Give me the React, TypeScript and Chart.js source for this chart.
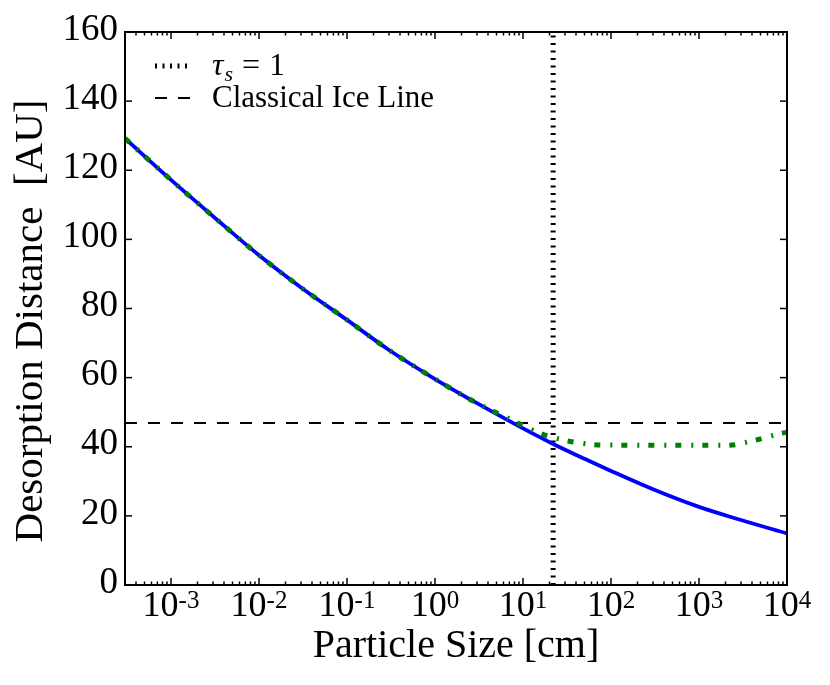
import { useEffect, useRef } from 'react';
import { Chart, registerables } from 'chart.js';

Chart.register(...registerables);

// particle size [cm] -> desorption distance [AU]
const blueSize = [3e-4, 1e-3, 3e-3, 1e-2, 3e-2, 0.1, 0.3, 1, 3, 10, 22, 50, 100, 300, 1000, 3000, 1e4];
const blueDist = [129.2, 117.2, 106.7, 95.4, 86.1, 76.7, 68.0, 59.6, 52.6, 45.3, 40.8, 36.5, 33.0, 27.7, 22.6, 18.8, 14.9];

const greenSize = [3e-4, 1e-3, 3e-3, 1e-2, 3e-2, 0.1, 0.3, 1, 3, 6, 11.5, 15.5, 22, 31.6, 44.7, 63, 89, 275, 1660, 2400, 3300, 4700, 6800, 9500, 1e4];
const greenDist = [129.2, 117.2, 106.7, 95.4, 86.1, 76.7, 68.0, 59.6, 52.6, 48.9, 45.4, 43.9, 42.7, 41.7, 41.1, 40.6, 40.5, 40.4, 40.4, 40.5, 41.2, 42.1, 43.2, 44.1, 44.2];

const stokesSize = 22; // tau_s = 1
const iceLine = 46.9;
const xRange = [3e-4, 1e4];
const yRange = [0, 160];
const xDecades = [-3, -2, -1, 0, 1, 2, 3, 4];

const SERIF = '"Liberation Serif", "DejaVu Serif", serif';

const toPoints = (xs: number[], ys: number[]) => xs.map((x, i) => ({ x, y: ys[i] }));

const framePlugin = {
  id: 'frame',
  afterDraw(chart: any) {
    const { ctx, chartArea: a, scales } = chart;
    const x = scales.x;
    const y = scales.y;
    const seg = (x1: number, y1: number, x2: number, y2: number) => {
      ctx.beginPath();
      ctx.moveTo(x1, y1);
      ctx.lineTo(x2, y2);
      ctx.stroke();
    };
    ctx.save();
    ctx.strokeStyle = '#000';
    ctx.fillStyle = '#000';
    ctx.setLineDash([]);

    // inward ticks, log minor ticks on x
    ctx.lineWidth = 1.5;
    for (let k = -4; k <= 4; k++) {
      for (let m = 1; m <= 9; m++) {
        const v = m * Math.pow(10, k);
        if (v < x.min * 0.999 || v > x.max * 1.001) continue;
        const px = x.getPixelForValue(v);
        const len = m === 1 ? 7 : 3.5;
        seg(px, a.bottom, px, a.bottom - len);
        seg(px, a.top, px, a.top + len);
      }
    }
    y.ticks.forEach((t: any) => {
      const py = y.getPixelForValue(t.value);
      seg(a.left, py, a.left + 7, py);
      seg(a.right, py, a.right - 7, py);
    });

    ctx.lineWidth = 2;
    ctx.strokeRect(a.left, a.top, a.right - a.left, a.bottom - a.top);

    // x tick labels 10^k
    ctx.textAlign = 'left';
    ctx.textBaseline = 'alphabetic';
    xDecades.forEach((d) => {
      const px = x.getPixelForValue(Math.pow(10, d));
      ctx.font = `36px ${SERIF}`;
      const wb = ctx.measureText('10').width;
      ctx.font = `25px ${SERIF}`;
      const ex = String(d);
      const we = ctx.measureText(ex).width;
      const left = px - (wb + we) / 2;
      ctx.font = `36px ${SERIF}`;
      ctx.fillText('10', left, a.bottom + 31);
      ctx.font = `25px ${SERIF}`;
      ctx.fillText(ex, left + wb, a.bottom + 23);
    });

    // y title
    ctx.save();
    ctx.translate(42, 321);
    ctx.rotate(-Math.PI / 2);
    ctx.font = `41px ${SERIF}`;
    ctx.textAlign = 'center';
    ctx.fillText('Desorption Distance  [AU]', 0, 0);
    ctx.restore();

    // legend
    const lx0 = a.left + 30;
    const lx1 = a.left + 65;
    const tx = a.left + 87;
    const r1 = a.top + 43;
    const r2 = a.top + 75;

    ctx.lineCap = 'butt';
    ctx.lineWidth = 5;
    ctx.setLineDash([2, 5.5]);
    seg(lx0, r1 - 9, lx1, r1 - 9);
    ctx.lineWidth = 2;
    ctx.setLineDash([12, 11]);
    seg(lx0, r2 - 9, lx1, r2 - 9);
    ctx.setLineDash([]);

    let cx = tx;
    ctx.font = `italic 32px ${SERIF}`;
    ctx.fillText('τ', cx, r1);
    cx += ctx.measureText('τ').width + 1;
    ctx.font = `italic 22px ${SERIF}`;
    ctx.fillText('s', cx, r1 + 6);
    cx += ctx.measureText('s').width + 9;
    ctx.font = `32px ${SERIF}`;
    ctx.fillText('=', cx, r1);
    cx += ctx.measureText('=').width + 9;
    ctx.fillText('1', cx, r1);

    ctx.font = `31px ${SERIF}`;
    ctx.fillText('Classical Ice Line', tx, r2);
    ctx.restore();
  },
};

export default function App() {
  const ref = useRef<HTMLCanvasElement>(null);

  useEffect(() => {
    if (ref.current == null) return () => {};
    const chart = new Chart(ref.current, {
      type: 'line',
      data: {
        datasets: [
          {
            label: 'dash-dot',
            data: toPoints(greenSize, greenDist),
            borderColor: '#007f00',
            borderWidth: 5,
            borderDash: [6, 10, 2, 9],
            borderCapStyle: 'butt',
            cubicInterpolationMode: 'monotone',
            pointRadius: 0,
            order: 0,
          },
          {
            label: 'solid',
            data: toPoints(blueSize, blueDist),
            borderColor: '#0000ff',
            borderWidth: 3.8,
            cubicInterpolationMode: 'monotone',
            pointRadius: 0,
            order: 1,
          },
          {
            label: 'τs = 1',
            data: [
              { x: stokesSize, y: yRange[0] },
              { x: stokesSize, y: yRange[1] },
            ],
            borderColor: '#000',
            borderWidth: 5,
            borderDash: [2, 5.5],
            borderCapStyle: 'butt',
            pointRadius: 0,
            order: 2,
          },
          {
            label: 'Classical Ice Line',
            data: [
              { x: xRange[0], y: iceLine },
              { x: xRange[1], y: iceLine },
            ],
            borderColor: '#000',
            borderWidth: 2,
            borderDash: [12, 11],
            pointRadius: 0,
            order: 2,
          },
        ],
      },
      options: {
        animation: false,
        responsive: true,
        maintainAspectRatio: false,
        layout: { padding: { top: 32, right: 43, bottom: 0, left: 0 } },
        plugins: {
          legend: { display: false },
          tooltip: { enabled: false },
        },
        scales: {
          x: {
            type: 'logarithmic',
            min: xRange[0],
            max: xRange[1],
            grid: { display: false, drawTicks: false },
            border: { display: false },
            ticks: { display: false },
            title: {
              display: true,
              text: 'Particle Size [cm]',
              color: '#000',
              font: { family: SERIF, size: 40 },
              padding: { top: 0, bottom: 15 },
            },
            afterFit: (s: any) => {
              s.height = 100;
            },
          },
          y: {
            type: 'linear',
            min: yRange[0],
            max: yRange[1],
            grid: { display: false, drawTicks: false },
            border: { display: false },
            ticks: {
              stepSize: 20,
              padding: 7,
              labelOffset: -2,
              color: '#000',
              font: { family: SERIF, size: 37 },
            },
            afterFit: (s: any) => {
              s.width = 125;
            },
          },
        },
      },
      plugins: [framePlugin],
    } as any);
    return () => {
      chart.destroy();
    };
  }, []);

  return (
    <div style={{ position: 'absolute', left: 0, top: 0, width: 830, height: 685, background: '#fff' }}>
      <canvas ref={ref} />
    </div>
  );
}
